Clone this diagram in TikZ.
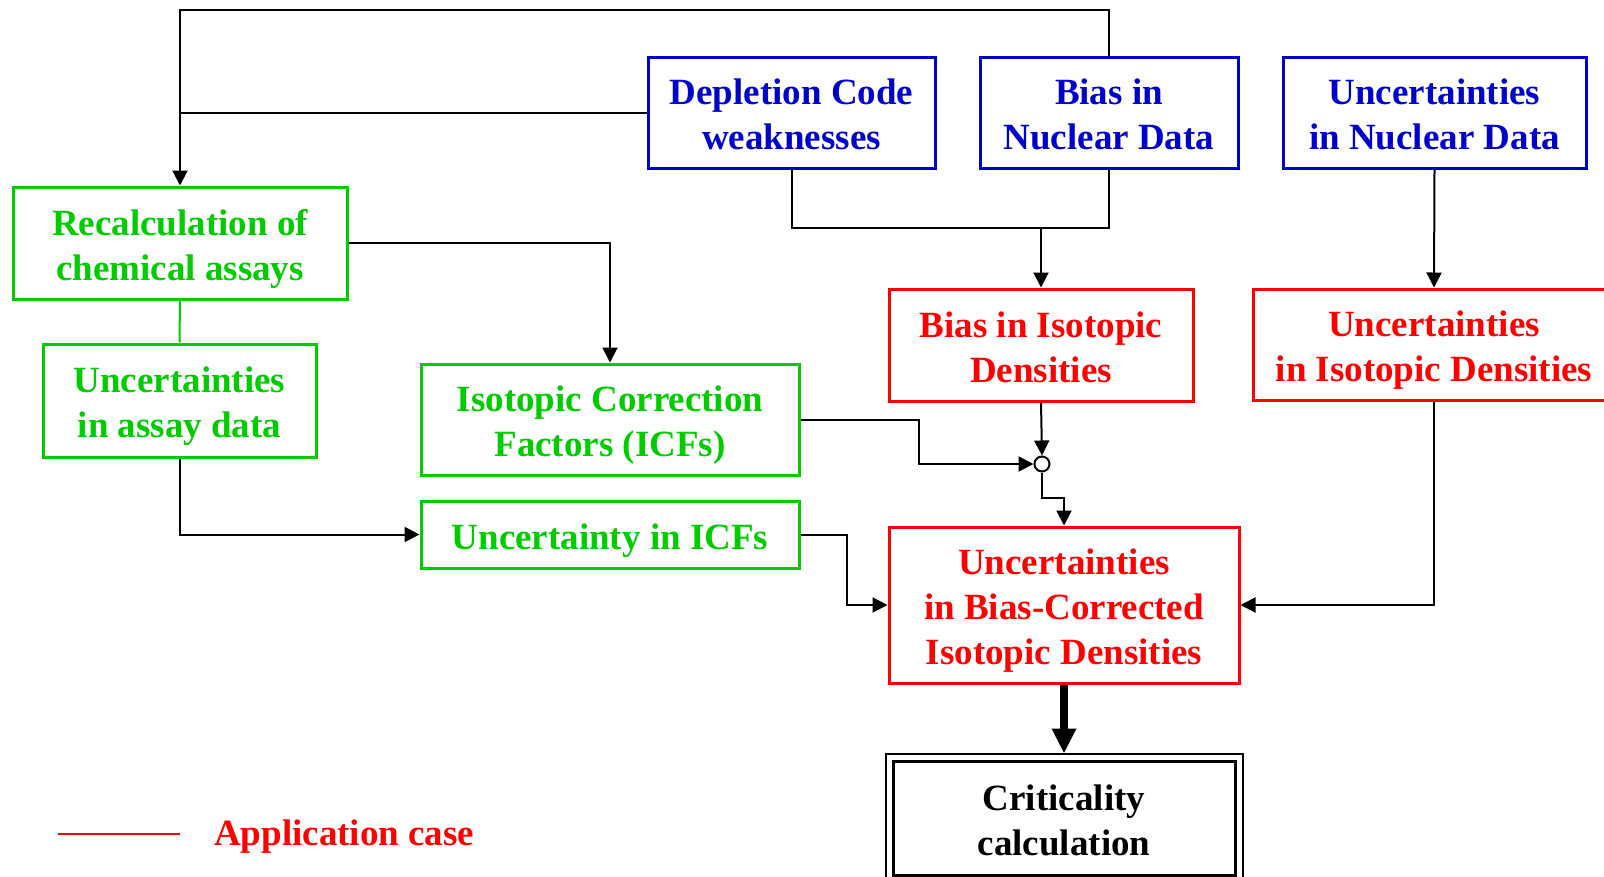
\documentclass[tikz,border=0pt]{standalone}
\usepackage{fontspec}
\setmainfont{Liberation Serif}
\usetikzlibrary{arrows.meta}
\definecolor{cblue}{RGB}{0,0,204}
\definecolor{cgreen}{RGB}{0,204,0}
\definecolor{cred}{RGB}{255,0,0}
% uniform line box so every label is centred the same way
\newcommand{\lstrut}{\rule[-8pt]{0pt}{45pt}}
\begin{document}
\begin{tikzpicture}[x=1pt,y=-1pt,
  box/.style={draw, line width=3pt, inner sep=0pt, align=center,
    font=\fontsize{37}{45}\selectfont\bfseries},
  bluebox/.style={box, draw=cblue, text=cblue},
  greenbox/.style={box, draw=cgreen, text=cgreen},
  redbox/.style={box, draw=cred, text=cred},
  blackbox/.style={box, draw=black, text=black},
  conn/.style={line width=2pt, draw=black},
  arr/.style={conn, -{Triangle[width=15pt,length=15pt]}},
  bigarr/.style={line width=8pt, draw=black, -{Triangle[width=23pt,length=25pt]}},
]
\useasboundingbox (0,0) rectangle (1604,876);
\clip (0,0) rectangle (1604,876);

% source boxes
\node[bluebox, minimum width=287pt, minimum height=111pt] (dep) at (791.5,112.5) {\lstrut Depletion Code\\\lstrut weaknesses};
\node[bluebox, minimum width=258pt, minimum height=111pt] (bnd) at (1109,112.5) {\lstrut Bias in\\\lstrut Nuclear Data};
\node[bluebox, minimum width=303pt, minimum height=111pt] (und) at (1434.5,112.5) {\lstrut Uncertainties\\\lstrut in Nuclear Data};

% experimental branch
\node[greenbox, minimum width=334pt, minimum height=112pt] (recalc) at (180,243) {\lstrut Recalculation of\\\lstrut chemical assays};
\node[greenbox, minimum width=273pt, minimum height=113pt] (uad) at (179.5,400.5) {\lstrut Uncertainties\\\lstrut in assay data};
\node[greenbox, minimum width=378pt, minimum height=111pt] (icf) at (610,419.5) {\lstrut Isotopic Correction\\\lstrut Factors (ICFs)};
\node[greenbox, minimum width=378pt, minimum height=67pt] (uicf) at (610,534.5) {\lstrut Uncertainty in ICFs};

% application branch
\node[redbox, minimum width=304pt, minimum height=112pt] (bid) at (1041,345) {\lstrut Bias in Isotopic\\\lstrut Densities};
\node[redbox, minimum width=362pt, minimum height=111pt] (uid) at (1434,344.5) {\lstrut Uncertainties\\\lstrut in Isotopic Densities};
\node[redbox, minimum width=350pt, minimum height=156pt] (ubc) at (1064,605) {\lstrut Uncertainties\\\lstrut in Bias-Corrected\\\lstrut Isotopic Densities};

% final calculation with double frame
\node[blackbox, minimum width=342pt, minimum height=114pt] (crit) at (1064,818) {\lstrut Criticality\\\lstrut calculation};
\draw[line width=2pt] ([xshift=-6pt,yshift=6pt]crit.north west) rectangle ([xshift=6pt,yshift=-6pt]crit.south east);

% junction
\node[draw, circle, line width=2pt, fill=white, minimum size=15pt, inner sep=0pt] (j) at (1042,464) {};

% connectors
\coordinate (top) at (180,10);
\coordinate (m) at (1041,228);
\coordinate (k) at (1042,498);
\draw[arr] (bnd.north) |- (top) -- (recalc.north);
\draw[conn] (dep.west) -- (dep.west -| recalc.north);
\draw[conn] (dep.south) |- (bnd.south |- m) -- (bnd.south);
\draw[arr] (m) -- (bid.north);
\draw[arr] (und.south) -- (uid.north);
\draw[arr] (recalc.east) -| (icf.north);
\draw[line width=2pt, cgreen] (recalc.south) -- (uad.north);
\draw[arr] (uad.south) |- (uicf.west);
\draw[arr] (icf.east) -- ++(118,0) |- (j.west);
\draw[arr] (bid.south) -- (j.north);
\draw[arr] (j.south) -- (k) -| (ubc.north);
\draw[arr] (uicf.east) -- ++(46,0) |- (ubc.west);
\draw[arr] (uid.south) |- (ubc.east);
\draw[bigarr] (ubc.south) -- ([yshift=6pt]crit.north);

% legend
\coordinate (la) at (58,834);
\coordinate (lb) at (180,834);
\draw[line width=2pt, cred] (la) -- (lb);
\node[anchor=base west, inner sep=0pt, text=cred, font=\fontsize{37}{45}\selectfont\bfseries] (leg) at (214,845) {Application case};
\end{tikzpicture}
\end{document}
